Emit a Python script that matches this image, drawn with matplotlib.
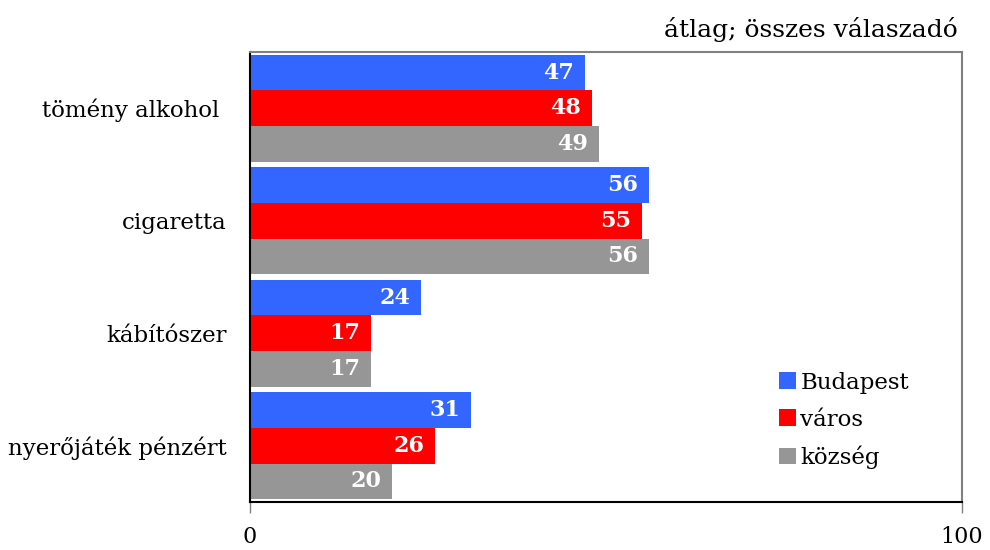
import matplotlib
matplotlib.use("Agg")
import matplotlib.pyplot as plt
import numpy as np
from matplotlib.patches import Patch

categories = ["tömény alkohol ", "cigaretta", "kábítószer", "nyerőjáték pénzért"]
series_names = ["Budapest", "város", "község"]
budapest = [47, 56, 24, 31]
varos = [48, 55, 17, 26]
kozseg = [49, 56, 17, 20]
colors = ["#3366FF", "#FF0000", "#969696"]
subtitle = "átlag; összes válaszadó"
xticks = [0, 100]

plt.rcParams['font.family'] = ['DejaVu Serif']

fig = plt.figure(figsize=(9.9, 5.5), dpi=100)
ax = fig.add_axes([250/990, 48/550, 712/990, 450/550])

n = len(categories)
h = 0.316
series = [budapest, varos, kozseg]
ypos = np.arange(n)
for i, (vals, col) in enumerate(zip(series, colors)):
    y = ypos - h + i * h
    bars = ax.barh(y, vals, height=h, color=col, edgecolor='none')
    for b, v in zip(bars, vals):
        ax.text(b.get_width() - 1.5, b.get_y() + b.get_height() / 2, str(v),
                ha='right', va='center', color='white', fontsize=16, fontweight='bold')

ax.set_xlim(0, 100)
ax.set_ylim(n - 0.5, -0.5)
ax.set_yticks(ypos)
ax.set_yticklabels(categories, fontsize=16.5)
ax.tick_params(axis='y', length=0, pad=17)
ax.set_xticks(xticks)
ax.set_xticklabels([str(t) for t in xticks], fontsize=16)
ax.tick_params(axis='x', direction='out', length=8, width=1, color='#808080', pad=9)

for s in ['top', 'right']:
    ax.spines[s].set_color('#808080')
    ax.spines[s].set_linewidth(1.5)
for s in ['left', 'bottom']:
    ax.spines[s].set_color('black')
    ax.spines[s].set_linewidth(1.5)

handles = [Patch(facecolor=c, edgecolor='none') for c in colors]
fig.legend(handles, series_names, loc='upper left', bbox_to_anchor=(758/990, 1 - 351/550),
           frameon=False, fontsize=16.5, handlelength=0.75, handleheight=0.75,
           handletextpad=0.2, labelspacing=0.65)

fig.text(958/990, 1 - 30/550, subtitle, ha='right', va='center', fontsize=18)

fig.savefig("out.png", dpi=100)
